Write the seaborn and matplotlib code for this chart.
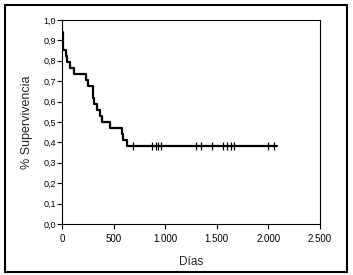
import matplotlib
matplotlib.use("Agg")
import matplotlib.pyplot as plt
import seaborn as sns
import pandas as pd
from matplotlib.patches import Rectangle

# Kaplan-Meier steps (days, survival)
event_days = [0, 5, 12, 35, 48, 78, 116, 233, 255, 297, 313, 336, 368, 384, 465, 578, 594, 633, 2080]
survival = [0.941, 0.912, 0.853, 0.824, 0.794, 0.765, 0.735, 0.706, 0.676, 0.618, 0.588,
            0.559, 0.529, 0.500, 0.471, 0.441, 0.412, 0.382, 0.382]
# censored observations
censor_days = [691, 869, 908, 927, 959, 1298, 1347, 1457, 1558, 1596, 1638, 1670, 1993, 2057]
censor_surv = [0.382] * len(censor_days)

x_ticks = [0, 500, 1000, 1500, 2000, 2500]
x_labels = ["0", "500", "1.000", "1.500", "2.000", "2.500"]
y_ticks = [0.0, 0.1, 0.2, 0.3, 0.4, 0.5, 0.6, 0.7, 0.8, 0.9, 1.0]
y_labels = ["0,0", "0,1", "0,2", "0,3", "0,4", "0,5", "0,6", "0,7", "0,8", "0,9", "1,0"]

sns.set_style("ticks")
plt.rcParams["font.family"] = ["Liberation Sans", "DejaVu Sans"]

km = pd.DataFrame({"Días": event_days, "S": survival})
cens = pd.DataFrame({"Días": censor_days, "S": censor_surv})

fig = plt.figure(figsize=(3.53, 2.75), dpi=100)
ax = fig.add_axes([62 / 353, 51 / 275, 258 / 353, 204 / 275])

sns.lineplot(data=km, x="Días", y="S", ax=ax, color="black", linewidth=1.6,
             drawstyle="steps-post", estimator=None, sort=False)
sns.scatterplot(data=cens, x="Días", y="S", ax=ax, marker="|", s=30, color="black",
                linewidth=0.9, zorder=3)

ax.set_xlim(0, 2500)
ax.set_ylim(0, 1.0)
ax.set_xticks(x_ticks)
ax.set_xticklabels(x_labels, fontsize=7)
ax.set_yticks(y_ticks)
ax.set_yticklabels(y_labels, fontsize=6.5)
ax.tick_params(axis="both", direction="out", length=3.5, width=0.8, colors="black")
ax.tick_params(axis="y", pad=1)
ax.tick_params(axis="x", pad=4)
for sp in ax.spines.values():
    sp.set_visible(True)
    sp.set_color("black")
    sp.set_linewidth(0.8)

ax.set_xlabel("Días", fontsize=8.5, labelpad=8)
ax.set_ylabel("% Supervivencia", fontsize=9, labelpad=7)

fig.patches.append(Rectangle((5 / 353, 3 / 275), 342 / 353, 267 / 275, transform=fig.transFigure,
                             fill=False, edgecolor="black", linewidth=1.5))

fig.savefig("out.png", dpi=100)
